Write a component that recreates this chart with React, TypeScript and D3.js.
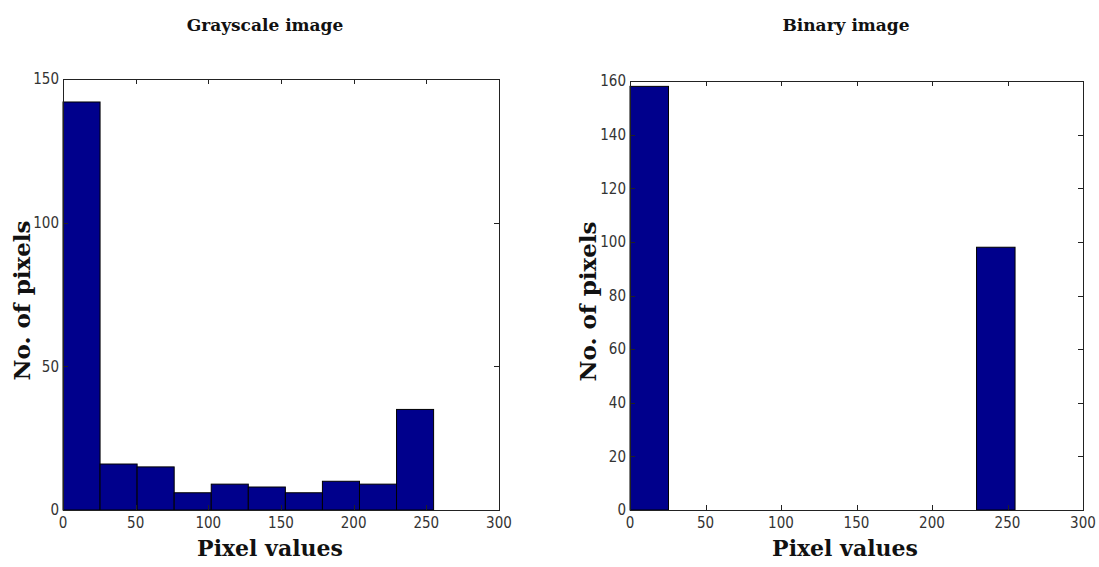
import { useEffect, useRef } from 'react';
import * as d3 from 'd3';

// histogram bins (10 bins over 0..255)
const binStarts = [0, 25.5, 51, 76.5, 102, 127.5, 153, 178.5, 204, 229.5];
const binWidth = 25.5;
const grayCounts = [142, 16, 15, 6, 9, 8, 6, 10, 9, 35];
const binaryCounts = [158, 0, 0, 0, 0, 0, 0, 0, 0, 98];
const xTicks = [0, 50, 100, 150, 200, 250, 300];
const grayYTicks = [0, 50, 100, 150];
const binaryYTicks = [0, 20, 40, 60, 80, 100, 120, 140, 160];
const titles = ['Grayscale image', 'Binary image'];

const W = 1099;
const H = 567;
const BAR = '#00008c';
const TICK_FONT = '"Liberation Sans Narrow", "Arial Narrow", "DejaVu Sans Condensed", "Roboto Condensed", sans-serif';
const LABEL_FONT = '"DejaVu Serif", "Liberation Serif", serif';

interface Panel {
  counts: number[];
  yMax: number;
  yTicks: number[];
  title: string;
  box: { left: number; right: number; top: number; bottom: number };
  titleX: number;
  labelX: number;
  yLabelX: number;
}

const panels: Panel[] = [
  {
    counts: grayCounts,
    yMax: 150,
    yTicks: grayYTicks,
    title: titles[0],
    box: { left: 63, right: 499, top: 79, bottom: 510 },
    titleX: 265,
    labelX: 270,
    yLabelX: 22,
  },
  {
    counts: binaryCounts,
    yMax: 160,
    yTicks: binaryYTicks,
    title: titles[1],
    box: { left: 630, right: 1083, top: 81, bottom: 510 },
    titleX: 846,
    labelX: 845,
    yLabelX: 588,
  },
];

export default function App() {
  const svgRef = useRef<SVGSVGElement>(null);

  useEffect(() => {
    if (!svgRef.current) return;
    const svg = d3.select(svgRef.current);
    svg.selectAll('*').remove();

    svg.append('rect').attr('width', W).attr('height', H).attr('fill', '#fff');

    panels.forEach((p) => {
      const { left, right, top, bottom } = p.box;
      const x = d3.scaleLinear().domain([0, 300]).range([left, right]);
      const y = d3.scaleLinear().domain([0, p.yMax]).range([bottom, top]);
      const g = svg.append('g');

      // bars
      g.selectAll('rect.bar')
        .data(p.counts.map((c, i) => ({ c, x0: binStarts[i] })))
        .enter()
        .filter((d) => d.c > 0)
        .append('rect')
        .attr('class', 'bar')
        .attr('x', (d) => x(d.x0))
        .attr('y', (d) => y(d.c))
        .attr('width', (d) => x(d.x0 + binWidth) - x(d.x0))
        .attr('height', (d) => y(0) - y(d.c))
        .attr('fill', BAR)
        .attr('stroke', '#000')
        .attr('stroke-width', 1);

      // inward ticks, mirrored on all sides
      const tl = 5;
      xTicks.forEach((t) => {
        const xp = Math.round(x(t)) + 0.5;
        g.append('line').attr('x1', xp).attr('x2', xp).attr('y1', bottom).attr('y2', bottom - tl).attr('stroke', '#222');
        g.append('line').attr('x1', xp).attr('x2', xp).attr('y1', top).attr('y2', top + tl).attr('stroke', '#222');
        g.append('text')
          .attr('x', x(t))
          .attr('y', bottom + 18)
          .attr('text-anchor', 'middle')
          .style('font-family', TICK_FONT)
          .style('font-size', '15px')
          .style('fill', '#333')
          .text(t);
      });
      p.yTicks.forEach((t) => {
        const yp = Math.round(y(t)) + 0.5;
        g.append('line').attr('x1', left).attr('x2', left + tl).attr('y1', yp).attr('y2', yp).attr('stroke', '#222');
        g.append('line').attr('x1', right).attr('x2', right - tl).attr('y1', yp).attr('y2', yp).attr('stroke', '#222');
        g.append('text')
          .attr('x', left - 4)
          .attr('y', y(t))
          .attr('dy', '0.35em')
          .attr('text-anchor', 'end')
          .style('font-family', TICK_FONT)
          .style('font-size', '15px')
          .style('fill', '#333')
          .text(t);
      });

      // frame
      g.append('rect')
        .attr('x', left + 0.5)
        .attr('y', top + 0.5)
        .attr('width', right - left)
        .attr('height', bottom - top)
        .attr('fill', 'none')
        .attr('stroke', '#222')
        .attr('stroke-width', 1);

      // title
      g.append('text')
        .attr('x', p.titleX)
        .attr('y', 31)
        .attr('text-anchor', 'middle')
        .style('font-family', LABEL_FONT)
        .style('font-size', '17px')
        .style('font-weight', '700')
        .style('fill', '#111')
        .text(p.title);

      // x label
      g.append('text')
        .attr('x', p.labelX)
        .attr('y', 556)
        .attr('text-anchor', 'middle')
        .style('font-family', LABEL_FONT)
        .style('font-size', '22px')
        .style('font-weight', '700')
        .style('fill', '#111')
        .text('Pixel values');

      // y label
      g.append('text')
        .attr('transform', `translate(${p.yLabelX + 8},${(top + bottom) / 2 + 6}) rotate(-90)`)
        .attr('text-anchor', 'middle')
        .style('font-family', LABEL_FONT)
        .style('font-size', '23px')
        .style('font-weight', '700')
        .style('fill', '#111')
        .text('No. of pixels');
    });
  }, []);

  return (
    <svg
      ref={svgRef}
      width={W}
      height={H}
      style={{ position: 'absolute', left: 0, top: 0 }}
    />
  );
}
